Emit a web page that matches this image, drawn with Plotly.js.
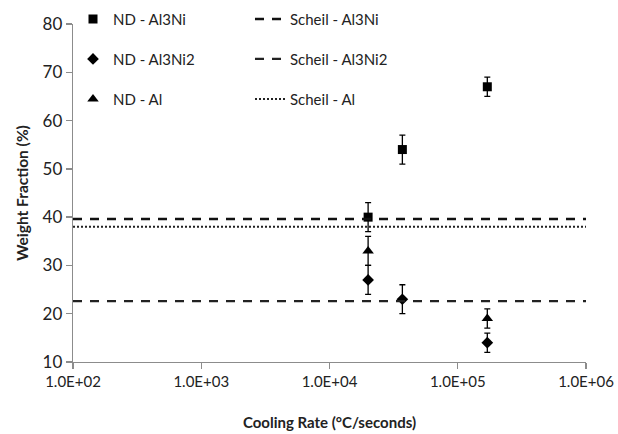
<!DOCTYPE html>
<html>
<head>
<meta charset="utf-8">
<script src="https://cdn.plot.ly/plotly-3.0.1.min.js"></script>
<style>
  html, body { margin: 0; padding: 0; background: #fff; }
  #chart { width: 618px; height: 434px; }
</style>
</head>
<body>
<div id="chart"></div>
<script>
// Measured phase fractions (ND) versus cooling rate, with error bars
const al3niRate = [2.0e4, 3.7e4, 1.7e5];
const al3niFrac = [40, 54, 67];
const al3niErr  = [3, 3, 2];

const al3ni2Rate = [2.0e4, 3.7e4, 1.7e5];
const al3ni2Frac = [27, 23, 14];
const al3ni2Err  = [3, 3, 2];

const alRate = [2.0e4, 1.7e5];
const alFrac = [33, 19];
const alErr  = [3, 2];

// Scheil predictions, constant over the whole cooling-rate range
const scheilRange = [1e2, 1e6];
const scheilAl3Ni = 39.6;
const scheilAl3Ni2 = 22.6;
const scheilAl = 38;

const xTickVals = [1e2, 1e3, 1e4, 1e5, 1e6];
const xTickText = ['1.0E+02', '1.0E+03', '1.0E+04', '1.0E+05', '1.0E+06'];
const yTickVals = [10, 20, 30, 40, 50, 60, 70, 80];

const FONT = 'Lato, "Open Sans", sans-serif';

function ndTrace(name, x, y, err, symbol, size, group) {
  return {
    type: 'scatter', mode: 'markers', name: name, x: x, y: y,
    legend: 'legend', legendgroup: group,
    marker: { symbol: symbol, size: size, color: '#000' },
    error_y: { type: 'data', array: err, visible: true, color: '#000', thickness: 1.3, width: 3 }
  };
}

function scheilTrace(name, value, dash, width, color, group) {
  return {
    type: 'scatter', mode: 'lines', name: name,
    x: scheilRange, y: scheilRange.map(() => value),
    legend: 'legend2', legendgroup: group,
    line: { color: color, width: width, dash: dash },
    hoverinfo: 'skip'
  };
}

const traces = [
  ndTrace('ND - Al3Ni', al3niRate, al3niFrac, al3niErr, 'square', 9, 'a'),
  ndTrace('ND - Al3Ni2', al3ni2Rate, al3ni2Frac, al3ni2Err, 'diamond', 9, 'b'),
  ndTrace('ND - Al', alRate, alFrac, alErr, 'triangle-up', 10, 'c'),
  scheilTrace('Scheil - Al3Ni', scheilAl3Ni, '9px,8px', 2.6, '#111', 'd'),
  scheilTrace('Scheil - Al3Ni2', scheilAl3Ni2, '9px,8px', 2.2, '#222', 'e'),
  scheilTrace('Scheil - Al', scheilAl, '2px,2px', 2, '#222', 'f')
];

const legendCommon = {
  bgcolor: 'rgba(0,0,0,0)', borderwidth: 0,
  font: { family: FONT, size: 15, color: '#222' },
  tracegroupgap: 17.5, yanchor: 'top', xanchor: 'left', y: 1.063
};

const layout = {
  width: 618, height: 434,
  margin: { l: 73, r: 32, t: 24, b: 72, autoexpand: false },
  paper_bgcolor: '#fff', plot_bgcolor: '#fff',
  font: { family: FONT, color: '#222' },
  showlegend: true,
  legend: Object.assign({}, legendCommon, { x: 0.0 }),
  legend2: Object.assign({}, legendCommon, { x: 0.345 }),
  xaxis: {
    type: 'log', range: [2, 6],
    tickvals: xTickVals, ticktext: xTickText,
    tickfont: { family: FONT, size: 15, color: '#222' },
    showgrid: false, zeroline: false,
    showline: true, linecolor: '#8c8c8c', linewidth: 1.3,
    ticks: 'outside', ticklen: 6, tickcolor: '#8c8c8c', tickwidth: 1.3,
    title: { text: '<b>Cooling Rate (°C/seconds)</b>', font: { family: FONT, size: 15, color: '#222' }, standoff: 28 }
  },
  yaxis: {
    range: [10, 80], tickvals: yTickVals,
    tickfont: { family: FONT, size: 17, color: '#222' },
    showgrid: false, zeroline: false,
    showline: true, linecolor: '#8c8c8c', linewidth: 1.3,
    ticks: 'outside', ticklen: 6, tickcolor: '#8c8c8c', tickwidth: 1.3,
    title: { text: '<b>Weight Fraction (%)</b>', font: { family: FONT, size: 15.5, color: '#222' }, standoff: 10 }
  }
};

Plotly.newPlot('chart', traces, layout, { displayModeBar: false, staticPlot: true });
</script>
</body>
</html>
